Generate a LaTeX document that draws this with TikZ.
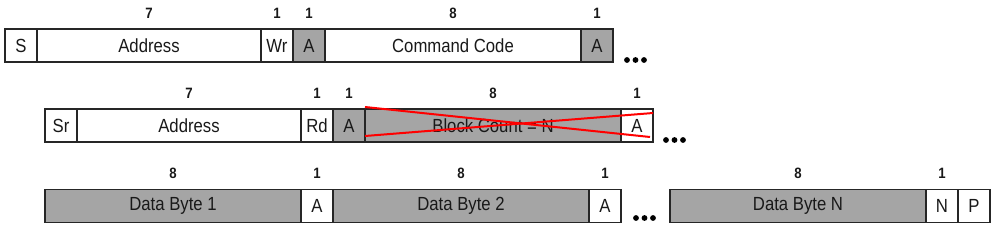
\documentclass[tikz,border=0pt]{standalone}
\usepackage{fontspec}
\setmainfont{Liberation Sans}[FakeStretch=0.88]
\usetikzlibrary{positioning}
\definecolor{fieldgray}{RGB}{165,165,165}

\begin{document}
\begin{tikzpicture}[x=1pt,y=-1pt,node distance=0pt,
  every node/.style={inner sep=0pt,outer sep=0pt,text=black!90},
  field/.style={draw=black!85,line width=1.3pt,minimum height=33pt,
    minimum width=#1*32pt,font=\fontsize{19}{22}\selectfont},
  field/.default=1,
  shaded/.style={fill=fieldgray},
  bits/.style={font=\fontsize{15}{18}\selectfont\bfseries}]
  \useasboundingbox (0,0) rectangle (999,231);
  % write: address + command code
  \node[field,anchor=west] (s) at (5,45.5) {S};
  \node[field=7,right=of s] (waddr) {Address};
  \node[field,right=of waddr] (wr) {Wr};
  \node[field,shaded,right=of wr] (ack1) {A};
  \node[field=8,right=of ack1] (cmd) {Command Code};
  \node[field,shaded,right=of cmd] (ack2) {A};
  \node[bits] (b1) at (waddr |- 0,13) {7};
  \node[bits] (b2) at (wr |- 0,13) {1};
  \node[bits] (b3) at (ack1 |- 0,13) {1};
  \node[bits] (b4) at (cmd |- 0,13) {8};
  \node[bits] (b5) at (ack2 |- 0,13) {1};
  \foreach \x in {627,635.5,644} \fill (\x,60) circle (2.9);
  % repeated start, read: block count
  \node[field,anchor=west] (sr) at (45,125.5) {Sr};
  \node[field=7,right=of sr] (raddr) {Address};
  \node[field,right=of raddr] (rd) {Rd};
  \node[field,shaded,right=of rd] (ack3) {A};
  \node[field=8,shaded,right=of ack3] (cnt) {Block Count = N};
  \node[field,right=of cnt] (ack4) {A};
  \node[bits] (b6) at (raddr |- 0,93) {7};
  \node[bits] (b7) at (rd |- 0,93) {1};
  \node[bits] (b8) at (ack3 |- 0,93) {1};
  \node[bits] (b9) at (cnt |- 0,93) {8};
  \node[bits] (b10) at (ack4 |- 0,93) {1};
  \draw[red,line width=2pt] (365,107) -- (650,137);
  \draw[red,line width=2pt] (365,136) -- (653,113);
  \foreach \x in {666,674.5,683} \fill (\x,140) circle (2.9);
  % data bytes
  \node[field=8,shaded,anchor=west] (d1) at (45,206) {Data Byte 1};
  \node[field,right=of d1] (ack5) {A};
  \node[field=8,shaded,right=of ack5] (d2) {Data Byte 2};
  \node[field,right=of d2] (ack6) {A};
  \node[field=8,shaded,anchor=west] (dn) at (670,206) {Data Byte N};
  \node[field,right=of dn] (nack) {N};
  \node[field,right=of nack] (p) {P};
  \node[bits] (b11) at (d1 |- 0,173) {8};
  \node[bits] (b12) at (ack5 |- 0,173) {1};
  \node[bits] (b13) at (d2 |- 0,173) {8};
  \node[bits] (b14) at (ack6 |- 0,173) {1};
  \node[bits] (b15) at (dn |- 0,173) {8};
  \node[bits] (b16) at (nack |- 0,173) {1};
  \foreach \x in {636,644.5,653} \fill (\x,218) circle (2.9);
\end{tikzpicture}
\end{document}
